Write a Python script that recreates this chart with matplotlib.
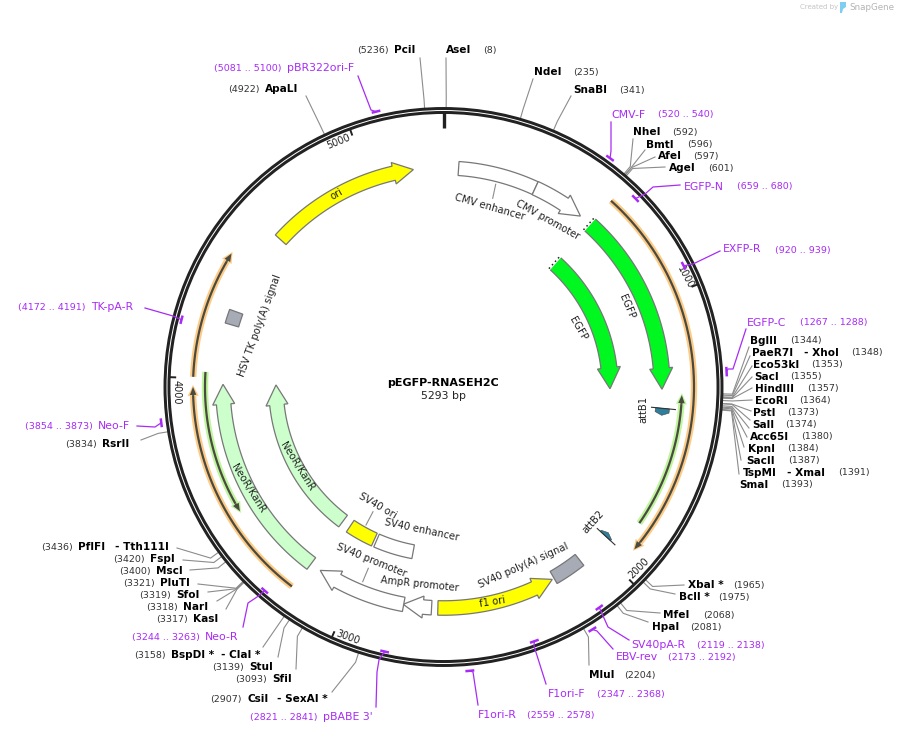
import numpy as np
import matplotlib
matplotlib.use('Agg')
import matplotlib.pyplot as plt
from matplotlib.patches import Polygon, Circle

TOTAL = 5293
CX, CY = 443.5, 387.0
R_RING = 276.5

plt.rcParams['font.family'] = 'DejaVu Sans'

# restriction sites
enzyme_names = ['AseI', 'NdeI', 'SnaBI', 'NheI', 'BmtI', 'AfeI', 'AgeI', 'BglII', 'PaeR7I',
                'Eco53kI', 'SacI', 'HindIII', 'EcoRI', 'PstI', 'SalI', 'Acc65I', 'KpnI',
                'SacII', 'TspMI', 'SmaI', 'XbaI *', 'BclI *', 'MfeI', 'HpaI', 'MluI',
                'CsiI', 'SfiI', 'StuI', 'BspDI *', 'KasI', 'NarI', 'SfoI', 'PluTI',
                'MscI', 'FspI', 'PflFI', 'RsrII', 'ApaLI', 'PciI']
enzyme_sites = [8, 235, 341, 592, 596, 597, 601, 1344, 1348, 1353, 1355, 1357, 1364, 1373,
                1374, 1380, 1384, 1387, 1391, 1393, 1965, 1975, 2068, 2081, 2204, 2907, 3093,
                3139, 3158, 3317, 3318, 3319, 3321, 3400, 3420, 3436, 3834, 4922, 5236]
enzyme_partner = {'PaeR7I': '- XhoI', 'TspMI': '- XmaI', 'CsiI': '- SexAI *',
                  'BspDI *': '- ClaI *', 'PflFI': '- Tth111I'}

# primers
primer_names = ['CMV-F', 'EGFP-N', 'EXFP-R', 'EGFP-C', 'SV40pA-R', 'EBV-rev', 'F1ori-F',
                'F1ori-R', "pBABE 3'", 'Neo-R', 'Neo-F', 'TK-pA-R', 'pBR322ori-F']
primer_start = [520, 659, 920, 1267, 2119, 2173, 2347, 2559, 2821, 3244, 3854, 4172, 5081]
primer_end = [540, 680, 939, 1288, 2138, 2192, 2368, 2578, 2841, 3263, 3873, 4191, 5100]

# big features, from/to in the direction of the arrow
egfp_range = (616, 1332)
neo_range = (3188, 3980)
ori_range = (4589, 5177)
cmv_enh_range = (58, 364)
cmv_pro_range = (364, 569)
f1_range = (2668, 2213)
amp_pro_range = (2692, 2801)
sv40_pro_range = (2799, 3145)
sv40_enh_range = (2800, 2993)
sv40_ori_range = (3005, 3144)
polya_range = (2085, 2205)
tk_range = (4210, 4263)
attb1_range = (1405, 1432)
attb2_range = (1950, 1933)

# translated features (thin arrows)
orange_ranges = [(617, 1917), (4004, 4443), (3194, 3970)]
green_ranges = [(1835, 1352), (4023, 3508)]

map_ticks = [1000, 2000, 3000, 4000, 5000]

# label layout: name x, number x, y, leader end x, leader end y
enzyme_layout = [
    (446, 483, 50, 446, 58), (534, 573, 72, 533, 79), (573, 619, 90, 571, 96),
    (633, 672, 132, 633, 139), (646, 687, 144.5, 645, 150), (658, 693, 156, 655, 157),
    (669, 708, 168, 665, 167), (750, 790, 340.5, 749, 347), (752, 851, 352.5, 750, 356),
    (753, 811, 364.5, 752, 366), (754, 790, 376.5, 752, 377), (754.5, 807, 388.5, 752, 388),
    (754.5, 799, 400.5, 752, 400), (753, 787, 412.5, 751, 411), (752, 785, 424.5, 750, 420),
    (750, 801, 436.5, 749, 428), (748, 787, 448.5, 747, 437), (746, 788, 460.5, 744, 447),
    (743, 838, 472.5, 741, 460), (739, 781, 484.5, 739, 474), (688, 733, 585, 684, 585),
    (679, 718, 597, 675, 594), (663, 703, 615, 660, 613), (652, 690, 627, 648, 622),
    (589, 624, 675, 589, 665), (247, 210, 699, 332, 692), (272, 235, 679, 296, 669),
    (249, 212, 667, 278, 657), (171, 134, 655, 263, 647), (193, 156, 619, 226, 609),
    (183, 146, 607, 217, 601), (176, 139, 595, 208, 592), (160, 123, 583, 198, 584),
    (156, 119, 571, 190, 570), (150, 113, 559, 183, 560), (78, 41, 547, 177, 548),
    (102, 65, 444, 141, 440), (265, 228, 89, 306, 96), (394, 357, 50, 420, 58)]
partner_x = {'PaeR7I': 804, 'TspMI': 787, 'CsiI': 277, 'BspDI *': 221, 'PflFI': 115}

# name x, range x, y, mark radius, leader points from the label to the mark
primer_layout = [
    (611, 658, 114.5, 283, [(611, 122), (611, 151)]),
    (684, 737, 186.5, 269, [(680, 185), (653, 187), (645, 194)]),
    (723, 775, 249.5, 269, [(720, 251), (693, 264)]),
    (747, 800, 322.5, 283.5, [(746, 329), (733, 369), (728, 369)]),
    (631, 697, 645, 270, [(629, 640), (608, 627)]),
    (616, 668, 657, 284.5, [(613, 649), (597, 631)]),
    (548, 597, 694, 270, [(546, 684), (534, 646)]),
    (478, 527, 715, 285, [(478, 705), (473, 672)]),
    (323, 250, 717, 271, [(376, 707), (377, 672), (379, 660)]),
    (205, 132, 637, 271, [(243, 627), (248, 603), (257, 597)]),
    (98, 25, 426, 284.5, [(137, 426), (155, 427)]),
    (91, 18, 307, 270.5, [(145, 308), (173, 316)]),
    (287, 214, 68, 283.5, [(358, 76), (371, 110)])]

# text, x, y, rotation
feature_labels = [
    ('CMV enhancer', 490, 207, -16), ('CMV promoter', 547.5, 220, -29),
    ('EGFP', 626.5, 306.5, -67), ('EGFP', 578.5, 328.5, -60), ('attB1', 643, 409, 90),
    ('attB2', 593.5, 521.5, 48), ('SV40 poly(A) signal', 523.5, 566, 24),
    ('f1 ori', 492.5, 601.5, 9), ('AmpR promoter', 420, 584, -6),
    ('SV40 promoter', 371.5, 560, -22), ('SV40 enhancer', 422, 530, -12),
    ('SV40 ori', 377.5, 506, -30), ('NeoR/KanR', 248.5, 488.5, -58),
    ('NeoR/KanR', 297.5, 466, -58), ('HSV TK poly(A) signal', 259.5, 326, 70),
    ('ori', 337, 194.5, 30)]
tick_label_layout = [(685, 277, -62), (639, 568, 45), (348, 637, -20), (176.5, 392, -90),
                     (338, 142, 22)]

PURPLE = '#A82BF5'
EDGE = '#777777'
GREY_LINE = '#8c8c8c'
GREEN = '#00F820'
LIGHT_GREEN = '#CCFFCC'
YELLOW = '#FFFF00'
POLY_GREY = '#A6ABB5'
TEAL = '#2D7F9D'


def xy(bp, r):
    a = 2 * np.pi * np.asarray(bp, dtype=float) / TOTAL
    return CX + r * np.sin(a), CY - r * np.cos(a)


def arc_points(b0, b1, r):
    n = max(2, int(abs(b1 - b0) / 8) + 2)
    x, y = xy(np.linspace(b0, b1, n), r)
    return list(zip(x, y))


def px_to_bp(px, r):
    return px / r * TOTAL / (2 * np.pi)


def arrow_polygon(b0, b1, r, shaft=14.5, head=22.0, head_len=20.0):
    sign = 1 if b1 > b0 else -1
    neck = b1 - sign * px_to_bp(head_len, r)
    pts = arc_points(b0, neck, r + shaft / 2)
    pts.append(xy(neck, r + head / 2))
    pts.append(xy(b1, r))
    pts.append(xy(neck, r - head / 2))
    pts += arc_points(neck, b0, r - shaft / 2)
    return pts


def band_polygon(b0, b1, r, width=14.0):
    return arc_points(b0, b1, r + width / 2) + arc_points(b1, b0, r - width / 2)


def thin_arrow(ax, b0, b1, r, glow, line='#4a4a40'):
    sign = 1 if b1 > b0 else -1
    neck = b1 - sign * px_to_bp(9, r)
    pts = np.array(arc_points(b0, neck, r))
    ax.plot(pts[:, 0], pts[:, 1], color=glow, lw=4.6, solid_capstyle='butt', zorder=2)
    ax.add_patch(Polygon(arrow_polygon(neck, b1 + sign * px_to_bp(2, r), r, 6, 11, 11),
                         fc=glow, ec='none', zorder=2))
    ax.plot(pts[:, 0], pts[:, 1], color=line, lw=1.6, solid_capstyle='butt', zorder=3)
    ax.add_patch(Polygon(arrow_polygon(neck, b1, r, 2, 6.5, 8), fc=line, ec='none', zorder=3))


fig = plt.figure(figsize=(8.97, 7.34), dpi=100)
ax = fig.add_axes([0, 0, 1, 1])
ax.set_xlim(0, 897)
ax.set_ylim(734, 0)
ax.axis('off')

# backbone ring
ax.add_patch(Circle((CX, CY), R_RING, fill=False, ec='#222222', lw=5.0, zorder=5))
ax.add_patch(Circle((CX, CY), R_RING, fill=False, ec='white', lw=0.7, zorder=6))

# origin and number ticks
x0, y0 = xy([0, 0], [R_RING, R_RING - 17])
ax.plot(x0, y0, color='#222222', lw=2.4, solid_capstyle='butt', zorder=5)
for t, (tx, ty, rot) in zip(map_ticks, tick_label_layout):
    x1, y1 = xy([t, t], [R_RING, R_RING - 9])
    ax.plot(x1, y1, color='#222222', lw=1.4, solid_capstyle='butt', zorder=5)
    ax.text(tx, ty, str(t), rotation=rot, rotation_mode='anchor', ha='center', va='center',
            fontsize=7.0, color='#222222')

# features
for r in (218.5, 166.5):
    ax.add_patch(Polygon(arrow_polygon(egfp_range[0], egfp_range[1], r, 16, 23, 21),
                         fc=GREEN, ec=EDGE, lw=0.9, zorder=3))
    sx, sy = xy([egfp_range[0] - 3, egfp_range[0] - 3], [r - 8, r + 8])
    ax.plot(sx, sy, color='white', lw=2.4, zorder=3)
    ax.plot(sx, sy, color='#222222', lw=1.1, ls=(0, (1, 2)), zorder=4)

for r in (220.5, 167.5):
    ax.add_patch(Polygon(arrow_polygon(neo_range[0], neo_range[1], r),
                         fc=LIGHT_GREEN, ec=EDGE, lw=0.9, zorder=3))

ax.add_patch(Polygon(arrow_polygon(ori_range[0], ori_range[1], 219.5),
                     fc=YELLOW, ec=EDGE, lw=0.9, zorder=3))
ax.add_patch(Polygon(arrow_polygon(f1_range[0], f1_range[1], 221),
                     fc=YELLOW, ec=EDGE, lw=0.9, zorder=3))
ax.add_patch(Polygon(band_polygon(cmv_enh_range[0], cmv_enh_range[1], 219),
                     fc='white', ec=EDGE, lw=0.9, zorder=3))
ax.add_patch(Polygon(arrow_polygon(cmv_pro_range[0], cmv_pro_range[1], 219),
                     fc='white', ec=EDGE, lw=0.9, zorder=3))
ax.add_patch(Polygon(arrow_polygon(amp_pro_range[0], amp_pro_range[1], 221),
                     fc='white', ec=EDGE, lw=0.9, zorder=3))
ax.add_patch(Polygon(arrow_polygon(sv40_pro_range[0], sv40_pro_range[1], 221),
                     fc='white', ec=EDGE, lw=0.9, zorder=3))
ax.add_patch(Polygon(band_polygon(sv40_enh_range[0], sv40_enh_range[1], 167.5),
                     fc='white', ec=EDGE, lw=0.9, zorder=3))
ax.add_patch(Polygon(band_polygon(sv40_ori_range[0], sv40_ori_range[1], 167.5),
                     fc=YELLOW, ec=EDGE, lw=0.9, zorder=3))
ax.add_patch(Polygon(band_polygon(polya_range[0], polya_range[1], 220),
                     fc=POLY_GREY, ec=EDGE, lw=0.9, zorder=3))
ax.add_patch(Polygon(band_polygon(tk_range[0], tk_range[1], 220.5),
                     fc=POLY_GREY, ec=EDGE, lw=0.9, zorder=3))

# attB sites are only a few px along the arc, but tall across it
for b0, b1 in (attb1_range, attb2_range):
    ax.add_patch(Polygon(arrow_polygon(b0, b1, 220, 14, 14, 3), fc=TEAL, ec='#444444', lw=0.4, zorder=3))
    lx, ly = xy([b0, b0], [209, 233])
    ax.plot(lx, ly, color='#333333', lw=0.8, zorder=4)

for b0, b1 in orange_ranges:
    thin_arrow(ax, b0, b1, 250.5, '#FDCB85')
for b0, b1 in green_ranges:
    thin_arrow(ax, b0, b1, 238.5, '#BFF59C')

# short leaders of feature labels
ax.plot([495.7, 492.7], [184.3, 198.3], color=GREY_LINE, lw=0.8)
ax.plot([373, 366], [511.7, 525], color=GREY_LINE, lw=0.8)
ax.plot([368.3, 362.7], [568.3, 581.7], color=GREY_LINE, lw=0.8)

for text, tx, ty, rot in feature_labels:
    ax.text(tx, ty, text, rotation=rot, rotation_mode='anchor', ha='center', va='center',
            fontsize=7.2, color='#222222', zorder=7)

# restriction sites
for name, site, (nx, numx, ny, ex, ey) in zip(enzyme_names, enzyme_sites, enzyme_layout):
    px, py = xy([site, site], [R_RING + 2.5, 289])
    ax.plot([px[0], px[1], ex], [py[0], py[1], ey], color=GREY_LINE, lw=0.8, zorder=1)
    ax.text(nx, ny, name, fontsize=7.6, fontweight='bold', color='black', va='center')
    if name in enzyme_partner:
        ax.text(partner_x[name], ny, enzyme_partner[name], fontsize=7.6, fontweight='bold',
                color='black', va='center')
    ax.text(numx, ny + 0.5, '(%d)' % site, fontsize=6.8, color='#333333', va='center')

# primers
for name, b0, b1, (nx, rx, ny, mr, pts) in zip(primer_names, primer_start, primer_end, primer_layout):
    mark = np.array(arc_points(b0, b1, mr))
    ax.plot(mark[:, 0], mark[:, 1], color=PURPLE, lw=1.8, solid_capstyle='projecting', zorder=7)
    mid = xy((b0 + b1) / 2.0, mr)
    line = np.array(pts + [mid])
    ax.plot(line[:, 0], line[:, 1], color=PURPLE, lw=0.9, zorder=7 if mr < 276 else 1)
    ax.text(nx, ny, name, fontsize=7.8, color=PURPLE, va='center')
    ax.text(rx, ny + 0.5, '(%d .. %d)' % (b0, b1), fontsize=6.8, color=PURPLE, va='center')

# centre title
ax.text(CX, 383, 'pEGFP-RNASEH2C', fontsize=8.0, fontweight='bold', ha='center', va='center',
        color='black')
ax.text(CX, 396, '%d bp' % TOTAL, fontsize=7.8, ha='center', va='center', color='#222222')

# watermark
ax.text(800, 7.5, 'Created by', fontsize=5.0, color='#c4c4c4', va='center')
ax.add_patch(Polygon([(840, 2), (846, 2), (846, 7), (843, 9), (842, 13), (840, 13)],
                     fc='#7fcdf0', ec='none'))
ax.text(849, 7.5, 'SnapGene', fontsize=6.3, color='#b4b4b4', va='center')

fig.savefig('out.png', dpi=100)
